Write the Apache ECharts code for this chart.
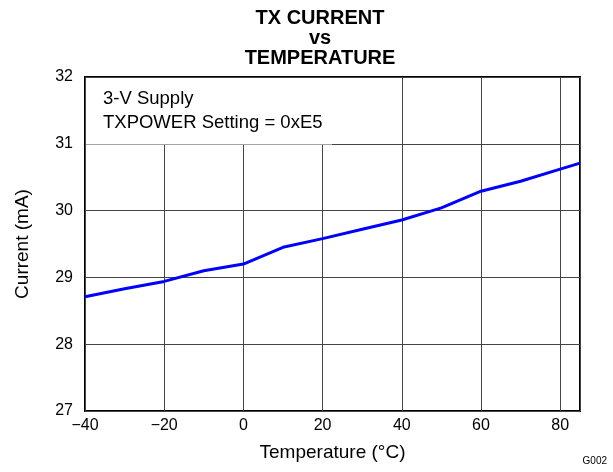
<!DOCTYPE html>
<html>
<head>
<meta charset="utf-8">
<script src="https://cdn.jsdelivr.net/npm/echarts@6/dist/echarts.min.js"></script>
<style>html,body{margin:0;padding:0;background:#fff}#c{width:613px;height:472px}</style>
</head>
<body>
<div id="c"></div>
<script>
const temperature = [-40, -30, -20, -10, 0, 10, 20, 30, 40, 50, 60, 70, 80, 85];
const current = [28.71, 28.83, 28.94, 29.10, 29.20, 29.45, 29.58, 29.72, 29.86, 30.04, 30.29, 30.44, 30.62, 30.71];
const titleLines = ['TX CURRENT', 'vs', 'TEMPERATURE'];
const noteLines = ['3-V Supply', 'TXPOWER Setting = 0xE5'];

const FONT = '"Liberation Sans", Arial, sans-serif';
const chart = echarts.init(document.getElementById('c'));
const fmtMinus = v => v === 85 ? '' : String(v).replace('-', '\u2212');

chart.setOption({
  animation: false,
  backgroundColor: '#fff',
  title: {
    text: titleLines.join('\n'),
    left: 315, top: 3, textAlign: 'center',
    textStyle: { fontFamily: FONT, fontWeight: 'bold', fontSize: 20, lineHeight: 20, color: '#000' }
  },
  grid: {
    left: 85, right: 33, top: 77, bottom: 61,
    show: true, borderColor: '#000', borderWidth: 2, backgroundColor: 'transparent'
  },
  xAxis: {
    type: 'value', min: -40, max: 85, interval: 20,
    name: 'Temperature (°C)', nameLocation: 'middle', nameGap: 32,
    nameTextStyle: { fontFamily: FONT, fontSize: 19, color: '#000' },
    axisLine: { show: false }, axisTick: { show: false },
    axisLabel: { formatter: fmtMinus, fontFamily: FONT, fontSize: 16, color: '#000', margin: 7, showMaxLabel: false },
    splitLine: { show: true, lineStyle: { color: '#444', width: 1 } }
  },
  yAxis: {
    type: 'value', min: 27, max: 32, interval: 1,
    name: 'Current (mA)', nameLocation: 'middle', nameGap: 53,
    nameTextStyle: { fontFamily: FONT, fontSize: 19, color: '#000' },
    axisLine: { show: false }, axisTick: { show: false },
    axisLabel: { fontFamily: FONT, fontSize: 16, color: '#000', margin: 12 },
    splitLine: { show: true, lineStyle: { color: '#444', width: 1 } }
  },
  series: [{
    type: 'line', data: temperature.map((t, i) => [t, current[i]]),
    showSymbol: false, symbol: 'none',
    lineStyle: { color: '#0000ff', width: 3 }, z: 3
  }],
  graphic: [
    { type: 'rect', shape: { x: 86, y: 78, width: 246, height: 66.5 }, style: { fill: '#fff' }, z: 10 },
    { type: 'text', left: 103, top: 87, z: 11,
      style: { text: noteLines.join('\n'), font: '18.5px ' + FONT, lineHeight: 24, fill: '#000' } },
    { type: 'text', right: 6, top: 456, z: 11,
      style: { text: 'G002', font: '10px ' + FONT, fill: '#000' } }
  ]
});
</script>
</body>
</html>
